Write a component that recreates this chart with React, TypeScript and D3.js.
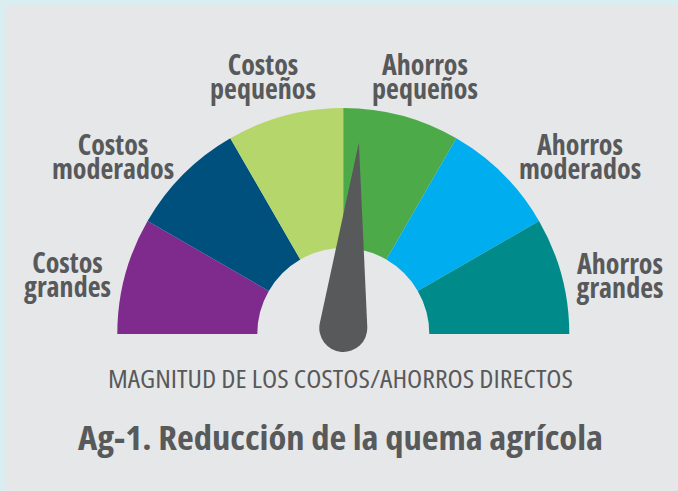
import React from "react";
import * as d3 from "d3";

// ---- data ----
const CATEGORY_TOP = ["Costos", "Costos", "Costos", "Ahorros", "Ahorros", "Ahorros"];
const CATEGORY_BOTTOM = ["grandes", "moderados", "pequeños", "pequeños", "moderados", "grandes"];
const SEGMENT_VALUES = [1, 1, 1, 1, 1, 1];
const NEEDLE_VALUE = 3.16; // position on the 0..6 gauge scale
const AXIS_TITLE = "MAGNITUD DE LOS COSTOS/AHORROS DIRECTOS";
const CHART_TITLE = "Ag-1. Reducción de la quema agrícola";

// ---- styles ----
const COLORS = ["#7f2a8d", "#00507e", "#b5d66b", "#4cab48", "#00adee", "#008b8a"];
const TEXT_COLOR = "#58595b";
const W = 678;
const H = 491;
const CX = 343.3;
const CY = 334;
const R_OUT = 226;
const R_IN = 86;

// label anchor (centre x, first baseline y) in layout space
const LABEL_LAYOUT = [
  [67.5, 273],
  [113, 155],
  [263, 75],
  [425, 75],
  [580, 155],
  [620, 274],
];

export default function App() {
  const total = d3.sum(SEGMENT_VALUES);
  const angle = d3.scaleLinear().domain([0, total]).range([-Math.PI / 2, Math.PI / 2]);
  const cum = d3.cumsum(SEGMENT_VALUES);
  const arc = d3.arc<any>().innerRadius(R_IN).outerRadius(R_OUT);

  const needleAngle = (angle(NEEDLE_VALUE) * 180) / Math.PI;
  const L = 186;
  const r = 24;
  const phi = Math.acos(r / L);
  const tx = r * Math.sin(phi);
  const ty = -r * Math.cos(phi);
  const needlePath = `M0,${-L} L${tx},${ty} A${r},${r} 0 1 1 ${-tx},${ty} Z`;

  const labelFont = {
    fontFamily: "'Open Sans', sans-serif",
    fontWeight: 700,
    fontStretch: "75%",
    fontSize: 28,
  } as React.CSSProperties;

  return (
    <svg width={W} height={H} style={{ position: "absolute", left: 0, top: 0 }}>
      <rect x={0} y={0} width={W} height={H} fill="#d9eef1" />
      <rect x={5} y={5} width={W - 5} height={H - 5} fill="#e6e7e8" />
      <g transform={`translate(${CX},${CY})`}>
        {SEGMENT_VALUES.map((v, i) => (
          <path
            key={i}
            d={arc({ startAngle: angle(cum[i] - v), endAngle: angle(cum[i]) }) as string}
            fill={COLORS[i]}
          />
        ))}
        <g transform={`translate(0,-6) rotate(${needleAngle})`}>
          <path d={needlePath} fill={TEXT_COLOR} />
        </g>
      </g>
      {CATEGORY_TOP.map((t, i) => (
        <g key={i}>
          <text x={LABEL_LAYOUT[i][0]} y={LABEL_LAYOUT[i][1]} textAnchor="middle" fill={TEXT_COLOR} style={labelFont}>
            {t}
          </text>
          <text x={LABEL_LAYOUT[i][0]} y={LABEL_LAYOUT[i][1] + 23.5} textAnchor="middle" fill={TEXT_COLOR} style={labelFont}>
            {CATEGORY_BOTTOM[i]}
          </text>
        </g>
      ))}
      <text
        x={340.5}
        y={388}
        textAnchor="middle"
        fill={TEXT_COLOR}
        textLength={465}
        lengthAdjust="spacingAndGlyphs"
        style={{ fontFamily: "'Open Sans', sans-serif", fontWeight: 400, fontStretch: "87.5%", fontSize: 25 }}
      >
        {AXIS_TITLE}
      </text>
      <text
        x={340.5}
        y={450}
        textAnchor="middle"
        fill={TEXT_COLOR}
        textLength={525}
        lengthAdjust="spacingAndGlyphs"
        style={{ fontFamily: "'Open Sans', sans-serif", fontWeight: 700, fontStretch: "75%", fontSize: 34 }}
      >
        {CHART_TITLE}
      </text>
    </svg>
  );
}
